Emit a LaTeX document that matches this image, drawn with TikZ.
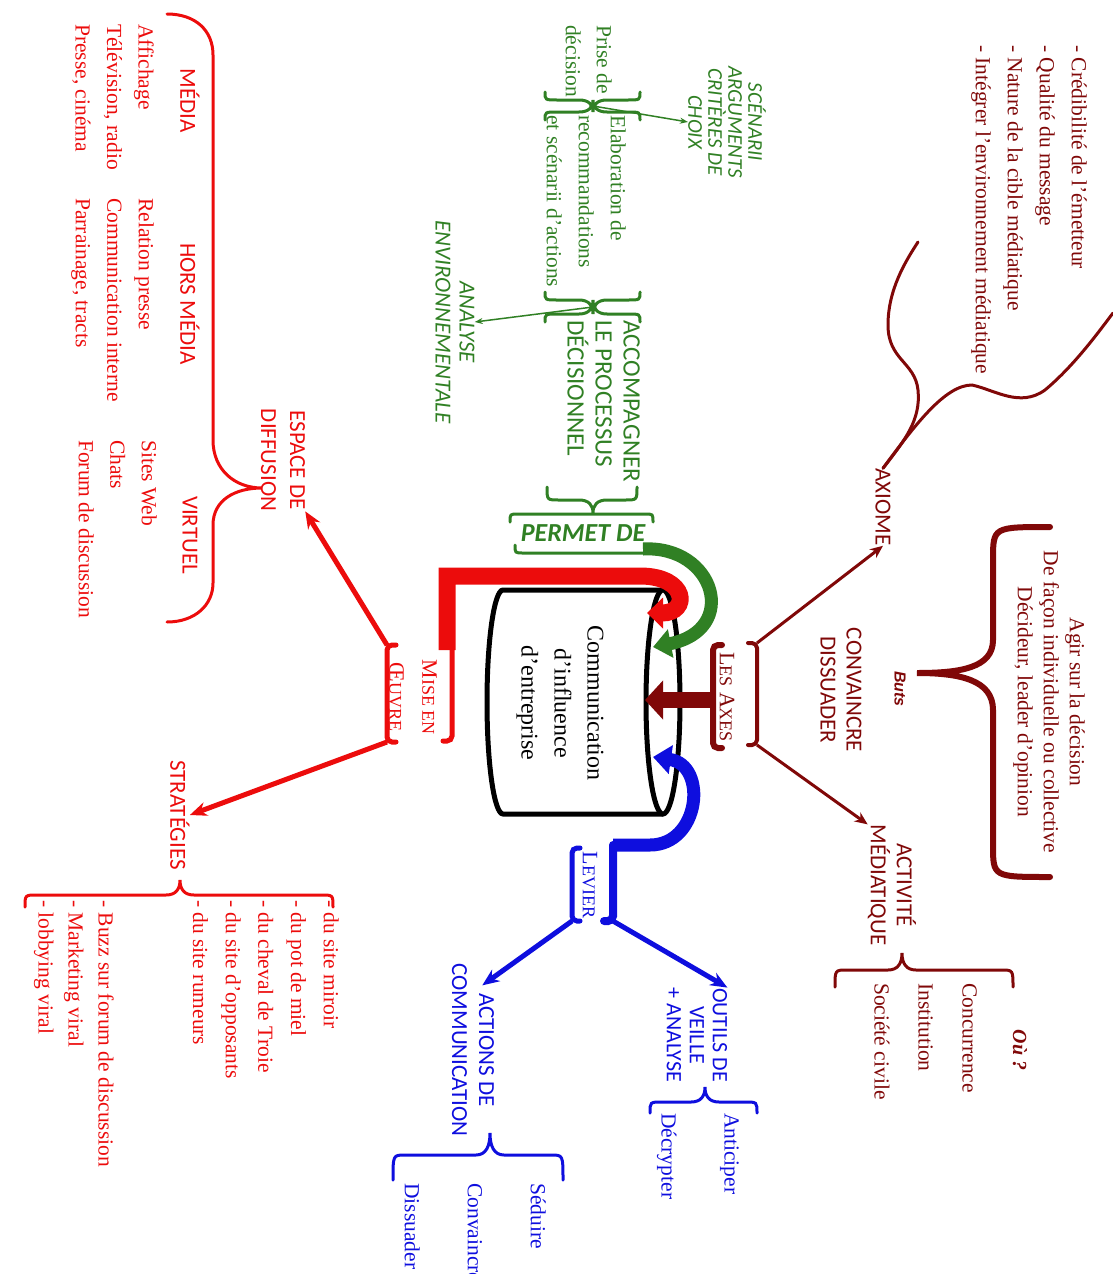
\documentclass[tikz,border=0pt]{standalone}
\usepackage{fontspec}
\setmainfont{Liberation Serif}
\newfontfamily\mapcaps{Carlito}
\newfontfamily\mapsans{Liberation Sans}
\usetikzlibrary{arrows.meta}

\definecolor{axecol}{RGB}{128,8,8}
\definecolor{miscol}{RGB}{236,12,12}
\definecolor{percol}{RGB}{48,128,36}
\definecolor{levcol}{RGB}{14,14,222}

\newcommand\petit{\fontsize{18}{20}\selectfont}
% horizontal brace: style, x left, x right, x tip, y spine, y ends, y tip
\newcommand\accol[7]{\draw[#1] (#2,#6) .. controls (#2,#5) .. ({#2+12},#5) -- ({#4-14},#5)
  .. controls ({#4-4},#5) and (#4,{#5+0.4*(#7-#5)}) .. (#4,#7)
  .. controls (#4,{#5+0.4*(#7-#5)}) and ({#4+4},#5) .. ({#4+14},#5) -- ({#3-12},#5)
  .. controls (#3,#5) .. (#3,#6);}

\tikzset{
  texte/.style={rotate=-90, inner sep=0pt, align=left, font=\fontsize{21.5}{32}\selectfont},
  etiq/.style={rotate=-90, inner sep=0pt, align=center, font=\mapcaps\fontsize{23}{26}\selectfont},
  cadre/.style={rotate=-90, inner sep=0pt, align=center, font=\fontsize{22}{33}\selectfont},
  accolade/.style={line width=3pt, line cap=round},
  crochet/.style={line width=5pt, line cap=round, rounded corners=5pt},
  flecheA/.style={line width=3pt, -{Stealth[length=13pt,width=11pt]}},
  flecheB/.style={line width=5pt, -{Stealth[length=17pt,width=14pt]}},
  flecheC/.style={line width=1.5pt, -{Stealth[length=8pt,width=6pt]}},
}

\begin{document}
\begin{tikzpicture}[x=1pt, y=-1pt]

\useasboundingbox (0,0) rectangle (1113,1274);

% cylinder
\filldraw[fill=white, line width=5pt] (663,590) -- (503,590)
  arc[start angle=270, end angle=90, x radius=16, y radius=112] -- (663,814);
\filldraw[fill=white, line width=5pt] (663,702) ellipse [x radius=17, y radius=112];
\node[rotate=-90, align=center, inner sep=0pt, font=\fontsize{24}{33}\selectfont] (coeur) at (560,703)
  {Communication\\d'influence\\d'entreprise};

\coordinate (rimR) at (647,613);
\coordinate (rimG) at (653,647);
\coordinate (rimM) at (645,700);
\coordinate (rimB) at (653,757);

%%% axes (maroon)
\node[texte, text=axecol, anchor=north west] (criteres) at (1087,45)
  {- Crédibilité de l'émetteur\\- Qualité du message\\- Nature de la cible médiatique\\- Intégrer l'environnement médiatique};
\node[texte, text=axecol, align=center, font=\fontsize{21.5}{26}\selectfont] (buts) at (1049,702)
  {Agir sur la décision\\De façon individuelle ou collective\\Décideur, leader d'opinion};
\node[rotate=-90, inner sep=0pt, text=axecol, font=\mapsans\bfseries\itshape\fontsize{16}{18}\selectfont] (butstitre) at (900,689) {Buts};
\node[etiq, text=axecol] (axiome) at (883,507) {AXIOME};
\node[etiq, text=axecol] (convaincre) at (841,690) {CONVAINCRE\\DISSUADER};
\node[etiq, text=axecol] (activite) at (892,885) {ACTIVITÉ\\MÉDIATIQUE};
\node[cadre, text=axecol] (axes) at (727,697) {L{\petit ES} A{\petit XES}};
\node[texte, text=axecol, anchor=north west, font=\fontsize{21.5}{44}\selectfont] (ou) at (977,983)
  {Concurrence\\Institution\\Société civile};
\node[rotate=-90, inner sep=0pt, text=axecol, font=\bfseries\itshape\fontsize{20}{22}\selectfont] (outitre) at (1020,1050) {Où ?};

% brackets round LES AXES
\draw[crochet, axecol, line width=6pt] (722,645) -- (713,645) -- (713,748) -- (722,748);
\draw[crochet, axecol, line width=4pt] (748,643) -- (757,643) -- (757,745) -- (748,745);
\coordinate (axT) at (757,643);
\coordinate (axB) at (757,745);
\coordinate (axL) at (713,700);

\draw[axecol, line width=16pt, -{Triangle[length=18pt,width=38pt]}] (axL) -- (rimM);
\draw[axecol, flecheA] (axT) -- (axiome.east);
\draw[axecol, flecheA] (axB) -- (activite.south west);

% axiome brace
\draw[accolade, axecol] (axiome.west) .. controls (905,440) and (921,420) .. (918,390)
  .. controls (915,362) and (888,360) .. (888,325) .. controls (888,290) and (905,262) .. (918,242);
\draw[accolade, axecol] (axiome.west) .. controls (915,425) and (945,385) .. (972,385)
  .. controls (995,390) and (1020,408) .. (1045,390) .. controls (1075,365) and (1100,330) .. (1113,313);

% buts brace
\draw[accolade, axecol, line width=6pt] (1050,527) .. controls (993,527) .. (993,560) -- (993,640)
  .. controls (993,668) and (960,673) .. (917,673) .. controls (960,673) and (993,680) .. (993,710)
  -- (993,845) .. controls (993,877) .. (1050,877);
\accol{accolade, axecol}{835}{1013}{902}{970}{987}{953}

%%% permet de (green)
\node[etiq, text=percol, font=\mapcaps\itshape\fontsize{21}{20}\selectfont] (scenarii) at (727,122)
  {SCÉNARII\\ARGUMENTS\\CRITÈRES DE\\CHOIX};
\node[texte, text=percol, anchor=north west, font=\fontsize{21.5}{31}\selectfont] (prise) at (612,25) {Prise de\\décision};
\node[texte, text=percol, anchor=north west] (elab) at (626,115)
  {Elaboration de\\recommandations\\et scénarii d'actions};
\node[etiq, text=percol, font=\mapcaps\itshape\fontsize{23}{24}\selectfont] (analyse) at (455,322)
  {ANALYSE\\ENVIRONNEMENTALE};
\node[etiq, text=percol, align=left, anchor=north west, font=\mapcaps\fontsize{25}{28}\selectfont] (accomp) at (640,320)
  {ACCOMPAGNER\\LE PROCESSUS\\DÉCISIONNEL};
\node[inner sep=0pt, text=percol, font=\mapcaps\bfseries\itshape\fontsize{26}{28}\selectfont] (permet) at (583,533) {PERMET DE};

\accol{accolade, percol}{545}{640}{593}{100}{92}{112}
\accol{accolade, percol}{545}{640}{593}{112}{120}{100}
\accol{accolade, percol}{545}{640}{593}{300}{292}{314}
\accol{accolade, percol}{545}{640}{593}{314}{322}{300}
\accol{accolade, percol}{547}{637}{593}{500}{487}{513}
\coordinate (xa) at (593,106);
\coordinate (xb) at (593,307);
\draw[percol, flecheC] (xa) -- (scenarii.south);
\draw[percol, flecheC] (xb) -- (analyse.north);

% frame round PERMET DE
\draw[accolade, percol] (510,522) .. controls (510,514) .. (518,514) -- (645,514) .. controls (653,514) .. (653,522);
\draw[accolade, percol] (515,545) .. controls (515,553) .. (523,553) -- (642,553) .. controls (650,553) .. (650,545);
\coordinate (perR) at (643,549);
\draw[percol, line width=13pt, -{Triangle[length=18pt,width=28pt]}] (perR) .. controls (715,545) and (740,630) .. (rimG);

%%% mise en oeuvre (red)
\node[cadre, text=miscol] (mise) at (413,697) {M{\petit ISE EN}\\Œ{\petit UVRE}};
\node[etiq, text=miscol, font=\mapcaps\fontsize{23}{29}\selectfont] (espace) at (283,460) {ESPACE DE\\DIFFUSION};
\node[etiq, text=miscol] (media) at (190,101) {MÉDIA};
\node[etiq, text=miscol] (hors) at (190,304) {HORS MÉDIA};
\node[etiq, text=miscol] (virtuel) at (190,535) {VIRTUEL};
\node[texte, text=miscol, anchor=north west, font=\fontsize{21.5}{31.5}\selectfont] (medialist) at (154,24)
  {Affichage\\Télévision, radio\\Presse, cinéma};
\node[texte, text=miscol, anchor=north west, font=\fontsize{21.5}{31.5}\selectfont] (horslist) at (154,198)
  {Relation presse\\Communication interne\\Parrainage, tracts};
\node[texte, text=miscol, anchor=north west, font=\fontsize{21.5}{31.5}\selectfont] (virtlist) at (157,440)
  {Sites Web\\Chats\\Forum de discussion};
\node[etiq, text=miscol] (strat) at (180,815) {STRATÉGIES};
\node[texte, text=miscol, anchor=north west, font=\fontsize{21.5}{32.7}\selectfont] (sites) at (339,900)
  {- du site miroir\\- du pot de miel\\- du cheval de Troie\\- du site d'opposants\\- du site rumeurs};
\node[texte, text=miscol, anchor=north west, font=\fontsize{21.5}{30}\selectfont] (viral) at (114,900)
  {- Buzz sur forum de discussion\\- Marketing viral\\- lobbying viral};

\draw[miscol, line width=17pt, -{Triangle[length=16pt,width=30pt]}] (447,650) |- (640,576)
  .. controls (688,576) and (690,613) .. (rimR);
\draw[crochet, miscol] (452,645) -- (452,741) -- (443,741);
\draw[crochet, miscol] (396,645) -- (387,645) -- (387,742) -- (396,742);
\coordinate (misT) at (387,645);
\coordinate (misB) at (387,742);
\draw[miscol, flecheB] (misT) -- (espace.north east);
\draw[miscol, flecheB] (misB) -- (strat.north);

\draw[accolade, miscol] (167,14) .. controls (195,14) and (213,30) .. (213,55) -- (213,440)
  .. controls (213,470) and (235,488) .. (262,488) .. controls (235,488) and (213,500) .. (213,525)
  -- (213,583) .. controls (213,605) and (195,622) .. (167,622);
\accol{accolade, miscol}{25}{333}{180}{895}{907}{880}

%%% levier (blue)
\node[cadre, text=levcol] (levier) at (590,885) {L{\petit EVIER}};
\node[etiq, text=levcol, font=\mapcaps\fontsize{22}{23}\selectfont] (outils) at (697,1035) {OUTILS DE\\VEILLE\\+ ANALYSE};
\node[texte, text=levcol, anchor=north west, font=\fontsize{21.5}{63}\selectfont] (anticiper) at (739,1113) {Anticiper\\Décrypter};
\node[etiq, text=levcol, font=\mapcaps\fontsize{23}{27}\selectfont] (actions) at (473,1050) {ACTIONS DE\\COMMUNICATION};
\node[texte, text=levcol, anchor=north west, font=\fontsize{21.5}{63}\selectfont] (seduire) at (546,1183) {Séduire\\Convaincre\\Dissuader};

\draw[crochet, levcol] (580,848) -- (572,848) -- (572,921) -- (580,921);
\draw[crochet, levcol, line width=8pt] (604,921) -- (613,921) -- (613,845);
\draw[levcol, line width=13pt, -{Triangle[length=18pt,width=28pt]}] (613,845) -- (650,845)
  .. controls (700,845) and (708,765) .. (rimB);
\coordinate (levL) at (572,921);
\coordinate (levR) at (613,921);
\draw[levcol, flecheB] (levL) -- ([xshift=-12pt, yshift=-22pt]actions.north west);
\draw[levcol, flecheB] (levR) -- (outils.north west);

\accol{accolade, levcol}{650}{757}{705}{1102}{1113}{1087}
\accol{accolade, levcol}{393}{563}{490}{1155}{1180}{1133}

\end{tikzpicture}
\end{document}
